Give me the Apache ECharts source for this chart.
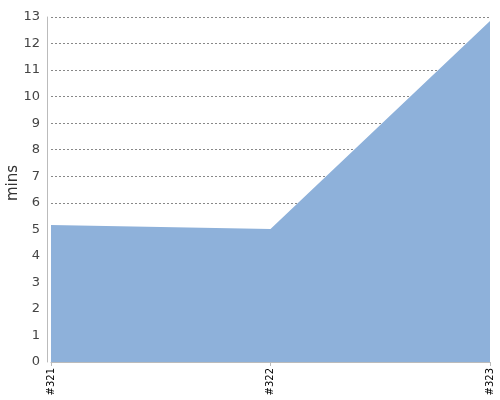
<!DOCTYPE html>
<html>
<head>
<meta charset="utf-8">
<script src="https://cdn.jsdelivr.net/npm/echarts@6/dist/echarts.min.js"></script>
<style>
    html, body { margin: 0; padding: 0; background: #fff; }
    #chart { width: 500px; height: 400px; }
</style>
</head>
<body>
<div id="chart"></div>
<script>
var builds = ['#321', '#322', '#323'];
var durations = [5.16, 5.01, 12.85];
var yTitle = 'mins';

var myChart = echarts.init(document.getElementById('chart'), null, {renderer: 'canvas'});

var option = {
    animation: false,
    textStyle: {
        fontFamily: 'DejaVu Sans'
    },
    grid: {
        left: 51,
        right: 10,
        top: 17,
        bottom: 38,
        containLabel: false,
        outerBoundsMode: 'none'
    },
    // axis title drawn as graphic so it sits where the reference has it
    graphic: [{
        type: 'text',
        x: 13,
        y: 183,
        rotation: Math.PI / 2,
        style: {
            text: yTitle,
            fill: '#333',
            font: '15px "DejaVu Sans"',
            align: 'center',
            verticalAlign: 'middle'
        }
    }],
    xAxis: {
        type: 'category',
        data: builds,
        boundaryGap: false,
        axisLine: {
            lineStyle: {color: '#bbbbbb'}
        },
        axisTick: {
            length: 4,
            lineStyle: {color: '#bbbbbb'}
        },
        axisLabel: {
            rotate: 90,
            fontSize: 10,
            color: '#000',
            margin: 6
        },
        splitLine: {show: false}
    },
    yAxis: {
        type: 'value',
        min: 0,
        max: 13,
        interval: 1,
        offset: 4,
        axisLine: {
            show: true,
            lineStyle: {color: '#bbbbbb'}
        },
        axisTick: {show: false},
        axisLabel: {
            fontSize: 13,
            color: '#444',
            margin: 7
        },
        splitLine: {
            lineStyle: {
                color: '#888',
                type: [2, 2],
                width: 1
            }
        }
    },
    series: [{
        type: 'line',
        data: durations,
        symbol: 'none',
        lineStyle: {width: 0},
        areaStyle: {
            color: '#8eb1da',
            opacity: 1
        },
        z: 1
    }]
};

myChart.setOption(option);
</script>
</body>
</html>
